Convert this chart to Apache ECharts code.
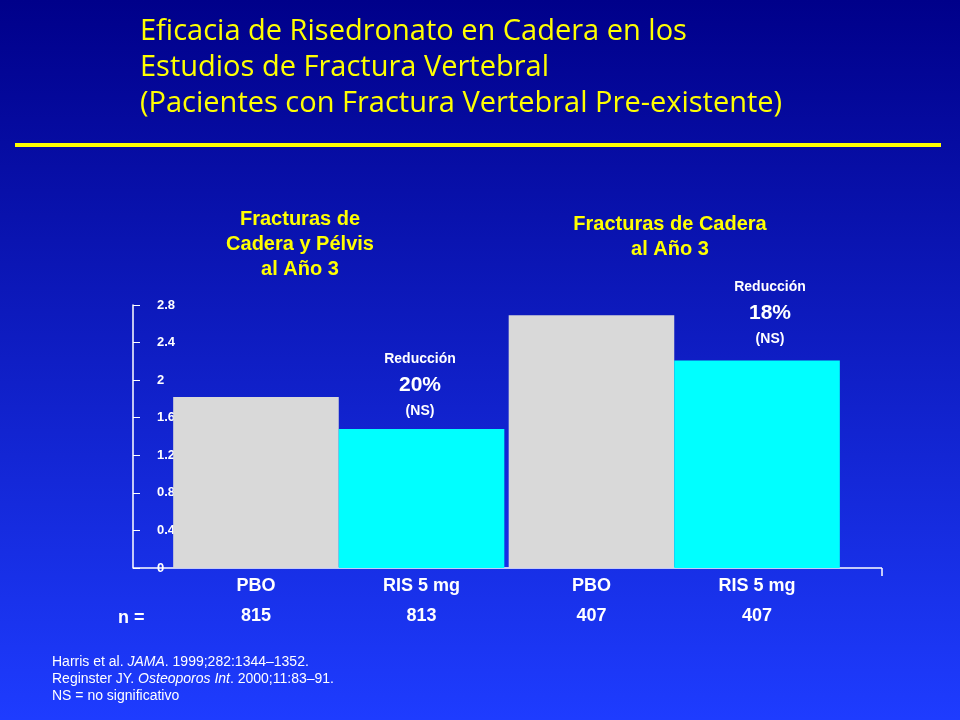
<!DOCTYPE html>
<html><head><meta charset="utf-8">
<script src="https://cdn.jsdelivr.net/npm/echarts@6/dist/echarts.min.js"></script>
<style>html,body{margin:0;padding:0;}#c{width:960px;height:720px;}</style>
</head><body><div id="c"></div>
<script>
const groups = ["Cadera y Pélvis", "Cadera"];
const pboValues = [1.82, 2.69];
const risValues = [1.48, 2.21];
const pboN = ["815", "407"];
const risN = ["813", "407"];
const reductions = ["20%", "18%"];
const yTicks = [0, 0.4, 0.8, 1.2, 1.6, 2, 2.4, 2.8];

const yellow = "#ffff00";
const shadow = { textShadowColor: "#000", textShadowBlur: 0, textShadowOffsetX: 2, textShadowOffsetY: 2 };
const gShadow = { shadowColor: "#000", shadowBlur: 0.01, shadowOffsetX: 2, shadowOffsetY: 2 };

function bottomLabel(name, nArr) {
    return {
        show: true, position: "insideBottom", offset: [0, 68],
        formatter: p => "{a|" + name + "}\n{a|" + nArr[p.dataIndex] + "}",
        rich: { a: { color: "#fff", fontFamily: "Liberation Sans", fontWeight: "bold", fontSize: 18, lineHeight: 30, ...shadow } }
    };
}

const chart = echarts.init(document.getElementById("c"));
chart.setOption({
    backgroundColor: {
        type: "linear", x: 0, y: 0, x2: 0, y2: 1,
        colorStops: [{ offset: 0, color: "#00008a" }, { offset: 1, color: "#1e3cff" }]
    },
    grid: { left: 171, right: 118, top: 305, bottom: 152 },
    xAxis: {
        type: "category", data: groups,
        axisLine: { show: false }, axisTick: { show: false }, axisLabel: { show: false }
    },
    yAxis: {
        type: "value", min: 0, max: 2.8, interval: 0.4, offset: 38,
        axisLine: { show: true, lineStyle: { color: "#fff", width: 1.5 } },
        axisTick: { show: true, inside: true, length: 7, lineStyle: { color: "#fff" } },
        splitLine: { show: false },
        axisLabel: {
            inside: true, margin: 24, color: "#fff", fontFamily: "Liberation Sans",
            fontWeight: "bold", fontSize: 13, ...shadow,
            formatter: v => yTicks.includes(Math.round(v * 10) / 10) ? String(Math.round(v * 10) / 10) : ""
        }
    },
    series: [
        {
            type: "bar", data: pboValues, barGap: "0%", barCategoryGap: "1.3%",
            itemStyle: { color: "#d9d9d9" }, label: bottomLabel("PBO", pboN)
        },
        {
            type: "bar", data: risValues,
            itemStyle: { color: "#00ffff" }, label: bottomLabel("RIS 5 mg", risN)
        }
    ],
    graphic: [
        { type: "text", left: 140, top: 14, style: {
            text: "Eficacia de Risedronato en Cadera en los\nEstudios de Fractura Vertebral\n(Pacientes con Fractura Vertebral Pre-existente)",
            fill: yellow, font: "500 29px 'Open Sans'", lineHeight: 36, ...gShadow } },
        { type: "rect", shape: { x: 15, y: 143, width: 926, height: 4 }, style: { fill: yellow } },
        { type: "text", x: 300, y: 207, style: { text: "Fracturas de\nCadera y Pélvis\nal Año 3", align: "center",
            fill: yellow, font: "bold 20px 'Liberation Sans'", lineHeight: 25, ...gShadow } },
        { type: "text", x: 670, y: 212, style: { text: "Fracturas de Cadera\nal Año 3", align: "center",
            fill: yellow, font: "bold 20px 'Liberation Sans'", lineHeight: 25, ...gShadow } },
        { type: "text", x: 420, y: 347, style: { text: "{s|Reducción}\n{b|" + reductions[0] + "}\n{s|(NS)}", align: "center",
            rich: { s: { fill: "#fff", font: "bold 14px 'Liberation Sans'", lineHeight: 24, ...shadow }, b: { fill: "#fff", font: "bold 21px 'Liberation Sans'", lineHeight: 28, ...shadow } } } },
        { type: "text", x: 770, y: 275, style: { text: "{s|Reducción}\n{b|" + reductions[1] + "}\n{s|(NS)}", align: "center",
            rich: { s: { fill: "#fff", font: "bold 14px 'Liberation Sans'", lineHeight: 24, ...shadow }, b: { fill: "#fff", font: "bold 21px 'Liberation Sans'", lineHeight: 28, ...shadow } } } },
        { type: "line", shape: { x1: 133, y1: 568, x2: 882, y2: 568 }, style: { stroke: "#fff", lineWidth: 1.5 } },
        { type: "line", shape: { x1: 882, y1: 568, x2: 882, y2: 576 }, style: { stroke: "#fff", lineWidth: 1.5 } },
        { type: "text", x: 118, y: 609, style: { text: "n =", fill: "#fff", font: "bold 18px 'Liberation Sans'", ...gShadow } },
        { type: "text", x: 52, y: 654, style: {
            text: "Harris et al. {i|JAMA}. 1999;282:1344–1352.\nReginster JY. {i|Osteoporos Int}. 2000;11:83–91.\nNS = no significativo",
            fill: "#fff", font: "14px 'Liberation Sans'", lineHeight: 17,
            rich: { i: { fill: "#fff", font: "italic 14px 'Liberation Sans'" } } } }
    ]
});
</script></body></html>
